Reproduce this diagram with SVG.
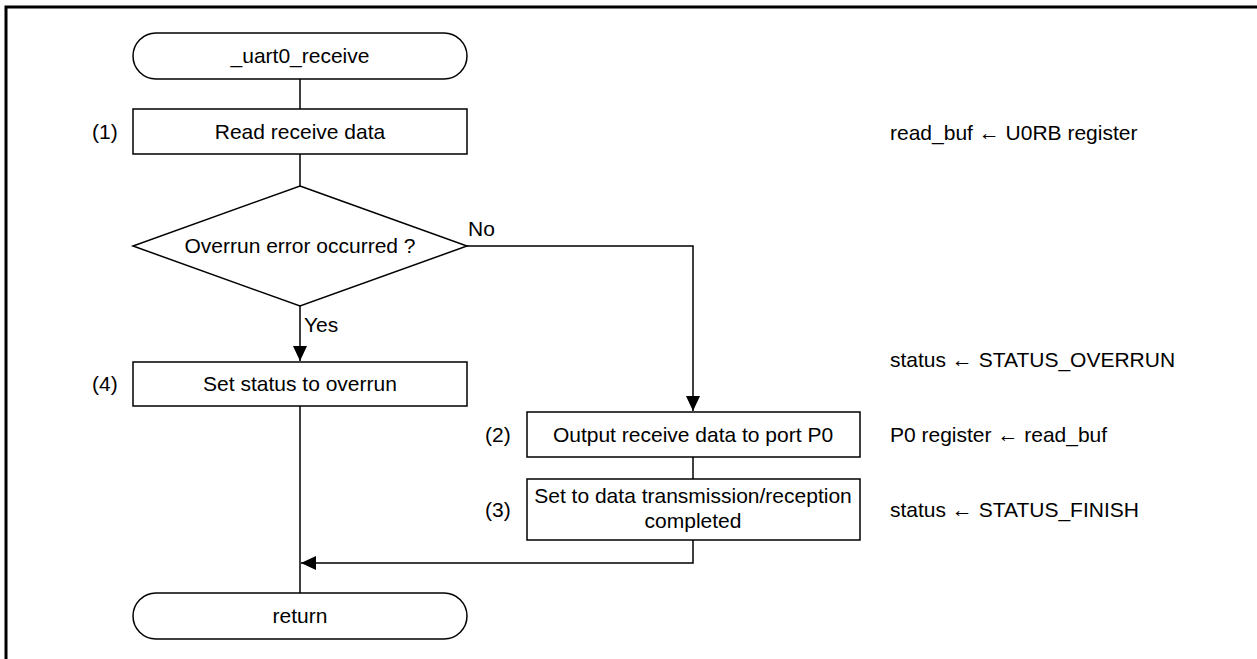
<svg xmlns="http://www.w3.org/2000/svg" width="1257" height="659" viewBox="0 0 1257 659">
<style>
text{font-family:"Liberation Sans",Arial,sans-serif;font-size:21px;fill:#000}
.c{text-anchor:middle}
.s{fill:#fff;stroke:#000;stroke-width:1.5}
.l{fill:none;stroke:#000;stroke-width:1.5}
</style>
<defs>
<marker id="ah" markerUnits="userSpaceOnUse" markerWidth="16" markerHeight="16" viewBox="0 0 16 16" refX="15" refY="8" orient="auto">
<path d="M0,1 L15,8 L0,15 Z" fill="#000"/>
</marker>
</defs>
<rect width="1257" height="659" fill="#fff"/>
<path d="M6,659 V7 H1257" fill="none" stroke="#000" stroke-width="3"/>
<g id="connectors">
<line class="l" x1="300" y1="79" x2="300" y2="109"/>
<line class="l" x1="300" y1="154" x2="300" y2="186"/>
<line class="l" x1="300" y1="306" x2="300" y2="361" marker-end="url(#ah)"/>
<path class="l" d="M467,246 H693 V411" marker-end="url(#ah)"/>
<line class="l" x1="300" y1="406" x2="300" y2="593"/>
<line class="l" x1="693" y1="457" x2="693" y2="479"/>
<path class="l" d="M693,540 V563 H301" marker-end="url(#ah)"/>
<text x="468" y="236">No</text>
<text x="304" y="332">Yes</text>
</g>
<g id="start">
<rect class="s" x="133" y="33" width="334" height="46" rx="23" ry="23"/>
<text class="c" x="300" y="63">_uart0_receive</text>
</g>
<g id="step1">
<rect class="s" x="133" y="109" width="334" height="45"/>
<text class="c" x="300" y="139">Read receive data</text>
<text x="92" y="139">(1)</text>
</g>
<g id="decision">
<polygon class="s" points="300,186 467,246 300,306 133,246"/>
<text class="c" x="300" y="253">Overrun error occurred ?</text>
</g>
<g id="step4">
<rect class="s" x="133" y="362" width="334" height="44"/>
<text class="c" x="300" y="391">Set status to overrun</text>
<text x="92" y="391">(4)</text>
</g>
<g id="step2">
<rect class="s" x="527" y="412" width="333" height="45"/>
<text class="c" x="693" y="442">Output receive data to port P0</text>
<text x="485" y="442">(2)</text>
</g>
<g id="step3">
<rect class="s" x="527" y="479" width="333" height="61"/>
<text class="c" x="693" y="503">Set to data transmission/reception</text>
<text class="c" x="693" y="528">completed</text>
<text x="485" y="517">(3)</text>
</g>
<g id="end">
<rect class="s" x="133" y="593" width="334" height="46" rx="23" ry="23"/>
<text class="c" x="300" y="623">return</text>
</g>
<g id="notes">
<text x="890" y="140">read_buf ← U0RB register</text>
<text x="890" y="367">status ← STATUS_OVERRUN</text>
<text x="890" y="442">P0 register ← read_buf</text>
<text x="890" y="517">status ← STATUS_FINISH</text>
</g>
</svg>
